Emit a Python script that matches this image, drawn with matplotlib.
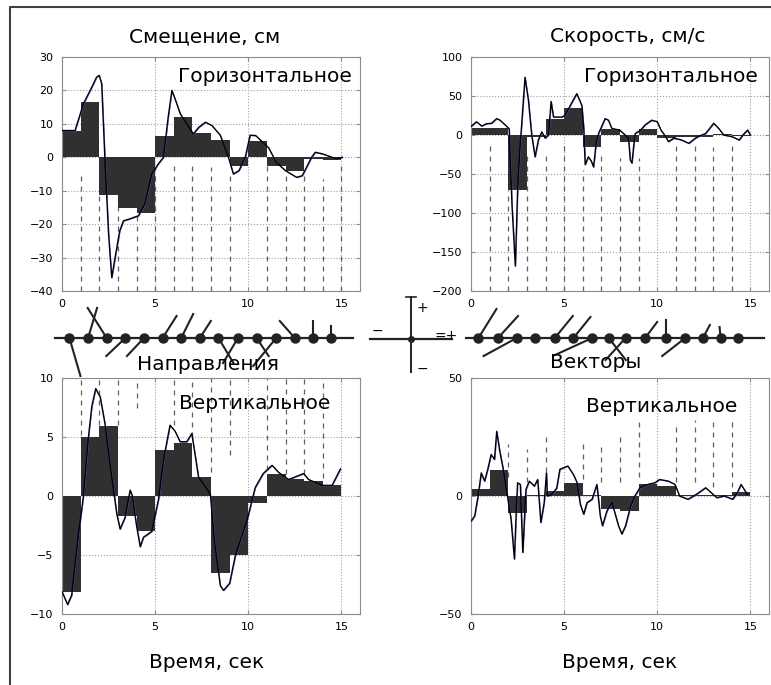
import numpy as np
import matplotlib.pyplot as plt
from matplotlib import transforms

W, H = 771, 685
plt.rcParams['font.family'] = ['DejaVu Sans']

# ---- data ----
bar_left = [0, 1, 2, 3, 4, 5, 6, 7, 8, 9, 10, 11, 12, 13, 14]

# displacement, horizontal (cm)
disp_h_bars = [8.0, 16.5, -11.3, -15.3, -16.8, 6.5, 12.0, 7.2, 5.1, -2.7, 4.9, -2.7, -4.2, -0.5, -0.7]
disp_h_t = [0, 0.7, 1.15, 1.6, 1.86, 2.0, 2.13, 2.3, 2.5, 2.67, 2.85, 3.1, 3.3, 3.6, 4.1, 4.45,
            4.82, 5.18, 5.45, 5.7, 5.9, 6.1, 6.35, 7.05, 7.35, 7.7, 8.05, 8.5, 8.94, 9.2, 9.5,
            9.84, 10.1, 10.4, 11.1, 11.5, 12.0, 12.6, 12.9, 13.4, 13.6, 14.0, 14.5, 14.75, 15.05]
disp_h_y = [8, 8, 16, 21, 24, 24.5, 22, 0, -23, -36, -30, -22, -19, -18.5, -17.5, -14,
            -5, -1.9, 0, 12, 20, 17, 13, 7, 9, 10.5, 9.5, 6.6, 0, -5, -4,
            0, 6.6, 6.5, 2.8, -1.5, -4, -6, -5.5, 0, 1.5, 1, 0, -0.5, 0]
disp_h_dash_t = [1, 2, 3, 4, 5, 6, 7, 8, 9, 11, 12, 13, 14, 15]
disp_h_dash_top = [-4, -11, -12, -17, -3, -1.5, -1.5, -3, -5.5, -2.5, -5.5, -5.5, -6.5, -2.5]

# velocity, horizontal (cm/s)
vel_h_bars = [9, 9, -70, -3, 21, 35, -15, 8, -8.5, 8, -4, -3, -2, 1, -1]
vel_h_t = [0.0, 0.3, 0.57, 0.84, 1.1, 1.38, 1.56, 1.83, 2.05, 2.2, 2.38, 2.5, 2.62, 2.9, 3.08,
           3.26, 3.44, 3.62, 3.8, 3.98, 4.16, 4.3, 4.43, 4.87, 5.05, 5.4, 5.68, 5.95, 6.05,
           6.13, 6.3, 6.45, 6.58, 6.72, 6.85, 7.2, 7.38, 7.56, 8.0, 8.46, 8.55, 8.64, 8.73,
           8.82, 9.1, 9.35, 9.7, 10.0, 10.2, 10.45, 10.6, 10.9, 11.3, 11.7, 12.05, 12.2, 12.6,
           13.03, 13.3, 13.57, 14.0, 14.4, 14.6, 14.85, 15.0]
vel_h_y = [11, 17, 11.5, 14.5, 15, 21, 19, 13, 8, -90, -168, -72, -20, 74, 45,
           0, -28, -6, 4, -4, 0, 43, 23, 23, 25, 41, 53, 38, 10,
           -38, -28, -33, -41, -10, 2, 21, 19, 8.5, 6, -4, -32, -36, -15,
           2, 6, 13, 19, 17, 6.4, -2, -8.5, -4, -6.4, -10.7, -4, -2, 2,
           15, 8.5, 0, -2, -6.4, 0, 6.4, 0]
vel_h_dash_t = [1, 2, 3, 4, 5, 6, 7, 8, 9, 11, 12, 13, 14]
vel_h_dash_top = [-10, -70, -27, -21, -8, -45, -27, -30, -30, -10, -10, -15, -10]

# displacement, vertical (cm)
disp_v_bars = [-8.1, 5.0, 5.9, -1.7, -3.0, 3.9, 4.5, 1.6, -6.5, -5.0, -0.6, 1.9, 1.4, 1.3, 0.9]
disp_v_t = [0, 0.3, 0.52, 0.88, 1.15, 1.42, 1.6, 1.81, 2.05, 2.31, 2.6, 2.94, 3.12, 3.39, 3.66,
            3.78, 4.0, 4.2, 4.37, 4.82, 5.18, 5.5, 5.8, 6.07, 6.34, 6.7, 6.97, 7.33, 7.96, 8.2,
            8.5, 8.67, 9.0, 9.3, 9.93, 10.37, 10.8, 11.28, 11.63, 12.17, 12.97, 13.24, 13.96,
            14.5, 14.95]
disp_v_y = [-8.1, -9.2, -8.4, -3.3, 0, 5, 7.6, 9.1, 8.4, 6.1, 2.5, -1.5, -2.8, -1.8, 0.5,
            0, -2.5, -4.3, -3.5, -3, -0.3, 3.5, 6, 5.5, 4.6, 4.6, 5.3, 1.6, 0.2, -4,
            -7.6, -8, -7.4, -5.1, -2.1, 0.7, 1.9, 2.6, 2.0, 1.4, 1.9, 1.4, 0.9,
            0.9, 2.3]
disp_v_dash_t = [1, 2, 3, 4, 6, 7, 8, 9, 11, 12, 13, 14]
disp_v_dash_low = [5.2, 6, 6, 7.5, 6, 5, 2, 3.5, 2.2, 1.9, 1.9, 1.5]

# velocity, vertical (cm/s)
vel_v_bars = [2.8, 11, -7.3, 0.5, 2, 5.6, 0.3, -5.3, -6.5, 4.9, 4.1, 0.6, 0.6, 0.6, 1.5]
vel_v_t = [0.02, 0.2, 0.38, 0.55, 0.73, 0.9, 1.08, 1.26, 1.38, 1.53, 1.8, 1.97, 2.15, 2.33,
           2.42, 2.5, 2.65, 2.78, 2.95, 3.13, 3.4, 3.58, 3.75, 3.93, 4.05, 4.1, 4.32, 4.6,
           4.77, 5.2, 5.5, 5.7, 5.87, 6.05, 6.23, 6.5, 6.76, 6.94, 7.06, 7.3, 7.57, 7.92,
           8.1, 8.3, 8.55, 8.8, 9.07, 9.5, 9.87, 10.13, 10.6, 10.95, 11.2, 11.65, 12.1,
           12.6, 12.9, 13.2, 13.6, 14.05, 14.3, 14.5, 14.85]
vel_v_y = [-10.5, -8.4, 0, 9.8, 6.3, 11.3, 17.6, 15.5, 27.4, 19.7, 8.4, -0.7, -9.8, -26.7,
           -8.4, 5.6, 4.9, -23.9, 2.8, 6.3, 4.2, 7.0, -11.2, -2.8, 9.8, 0, 0.5, 3.3,
           11.3, 12.7, 9.1, 5.6, -3.5, -7.7, -2.8, -1.4, 4.9, -8.4, -12.6, -6.3, -2.8, -12.6,
           -16.1, -12.6, -4.9, 0, 3.5, 4.9, 5.6, 7.0, 6.3, 4.9, 0, -1.4, 0.7,
           3.5, 1.4, -0.7, 0, -1.4, 1.4, 4.9, 0.5]
vel_v_dash_t = [2, 3, 4, 6, 7, 8, 9, 11, 12, 13, 14]
vel_v_dash_top = [22, 20, 25, 22, 22, 25, 32, 31, 32, 32, 32]
vel_v_dash_low = [8, 6, 6, 7, 6, 6, 8, 6, 6, 4, 4]

# direction strip (left) and vector strip (right): dot times and segment components (px)
dir_t = [0.4, 1.4, 2.4, 3.4, 4.4, 5.4, 6.4, 7.4, 8.4, 9.45, 10.45, 11.5, 12.5, 13.5, 14.45]
dir_dx = [11, 9, -19, -19, -17, 14, 12, 11, 15, -15, 12, -23, -15, 0, 0]
dir_dy = [-38, 30, 30, -18, -18, 22, 24, 17, -25, -25, -18, -28, 17, 17, 12]
vec_t = [0.4, 1.45, 2.45, 3.45, 4.5, 5.5, 6.5, 7.4, 8.3, 9.35, 10.45, 11.5, 12.45, 13.4, 14.35]
vec_dx = [18, 20, -33, 0, 18, 17, -37, 17, -20, 12, 0, -23, 7, -1, 0]
vec_dy = [29, 22, -18, 0, 22, 21, -17, -22, -22, 16, 18, -18, 13, 11, 0]

xticks = [0, 5, 10, 15]

fig = plt.figure(figsize=(W / 100, H / 100), dpi=100)


def box(x0, y0, x1, y1):
    return [x0 / W, 1 - y1 / H, (x1 - x0) / W, (y1 - y0) / H]


def ftext(x, y, s, **kw):
    fig.text(x / W, 1 - y / H, s, ha='center', va='center', **kw)


# overlay for frame and centre cross (pixel coordinates)
ov = fig.add_axes([0, 0, 1, 1], zorder=0)
ov.set_xlim(0, W)
ov.set_ylim(H, 0)
ov.axis('off')
ov.plot([10, 10, W], [H, 7, 7], color='#404040', lw=1.5)
ov.plot([411, 411], [297, 372], color='#222', lw=1.4)
ov.plot([406, 416], [297, 297], color='#222', lw=1.2)
ov.plot([370, 452], [339, 339], color='#222', lw=1.6)
ov.plot([411], [339], 'o', color='#222', ms=4)
ov.text(422, 308, '+', ha='center', va='center', fontsize=10)
ov.text(422, 369, '−', ha='center', va='center', fontsize=10)
ov.text(377, 331, '−', ha='center', va='center', fontsize=10)
ov.text(446, 336, '=+', ha='center', va='center', fontsize=10)


def panel(rect, ylim, yticks, bars, t, y, dash_t, dash_lo, dash_hi, label, lab_xy):
    ax = fig.add_axes(box(*rect))
    ax.set_xlim(0, 16)
    ax.set_ylim(*ylim)
    ax.set_xticks(xticks)
    ax.set_yticks(yticks)
    ax.set_axisbelow(True)
    ax.grid(True, linestyle=':', color='#a0a0a0', lw=0.8)
    for s in ax.spines.values():
        s.set_color('#8c8c8c')
        s.set_linewidth(0.8)
    ax.tick_params(direction='in', top=True, right=True, length=3, color='#8c8c8c',
                   labelsize=8, pad=6)
    ax.vlines(dash_t, dash_lo, dash_hi, colors='#606060', linestyles=(0, (4, 4)), lw=0.9,
              zorder=1)
    ax.bar(bar_left, bars, width=1, align='edge', color='#303030', zorder=2)
    shift = transforms.offset_copy(ax.transData, fig=fig, x=0.6, y=-0.6, units='dots')
    ax.plot(t, y, color='#5a5aff', lw=0.5, transform=shift, zorder=3)
    ax.plot(t, y, color='black', lw=1.0, zorder=4)
    ax.text(lab_xy[0], lab_xy[1], label, transform=ax.transAxes, ha='right', va='center',
            fontsize=14.5)
    return ax


panel((62, 57, 360, 291), (-40, 30), range(-40, 31, 10), disp_h_bars, disp_h_t, disp_h_y,
      disp_h_dash_t, -40, disp_h_dash_top, 'Горизонтальное', (0.973, 0.915))
panel((471, 57, 769, 291), (-200, 100), range(-200, 101, 50), vel_h_bars, vel_h_t, vel_h_y,
      vel_h_dash_t, -200, vel_h_dash_top, 'Горизонтальное', (0.963, 0.915))
panel((62, 378, 360, 614), (-10, 10), range(-10, 11, 5), disp_v_bars, disp_v_t, disp_v_y,
      disp_v_dash_t, disp_v_dash_low, 10, 'Вертикальное', (0.90, 0.894))
panel((471, 378, 769, 614), (-50, 50), [-50, 0, 50], vel_v_bars, vel_v_t, vel_v_y,
      vel_v_dash_t, vel_v_dash_low, vel_v_dash_top, 'Вертикальное', (0.893, 0.878))


def strip(rect, t, dx, dy, line_ext):
    ax = fig.add_axes(box(*rect))
    ax.set_xlim(0, 16)
    h = rect[3] - rect[1]
    ax.set_ylim(-h / 2, h / 2)
    ax.axis('off')
    pps = (rect[2] - rect[0]) / 16.0
    ax.plot(line_ext, [0, 0], color='#222', lw=1.6, clip_on=False)
    for ti, u, v in zip(t, dx, dy):
        ax.plot([ti, ti + u / pps], [0, v], color='#222', lw=1.5, clip_on=False)
    ax.plot(t, np.zeros(len(t)), 'o', color='#222', ms=6.5, clip_on=False)


strip((62, 300, 360, 376), dir_t, dir_dx, dir_dy, [-0.38, 15.6])
strip((471, 300, 769, 376), vec_t, vec_dx, vec_dy, [-0.27, 15.75])

ftext(205, 37, 'Смещение, см', fontsize=14.5)
ftext(628, 37, 'Скорость, см/с', fontsize=14.5)
ftext(208, 365, 'Направления', fontsize=14.5)
ftext(596, 363, 'Векторы', fontsize=14.5)
ftext(207, 663, 'Время, сек', fontsize=14.5)
ftext(620, 663, 'Время, сек', fontsize=14.5)

fig.savefig('out.png', dpi=100, facecolor='white')
